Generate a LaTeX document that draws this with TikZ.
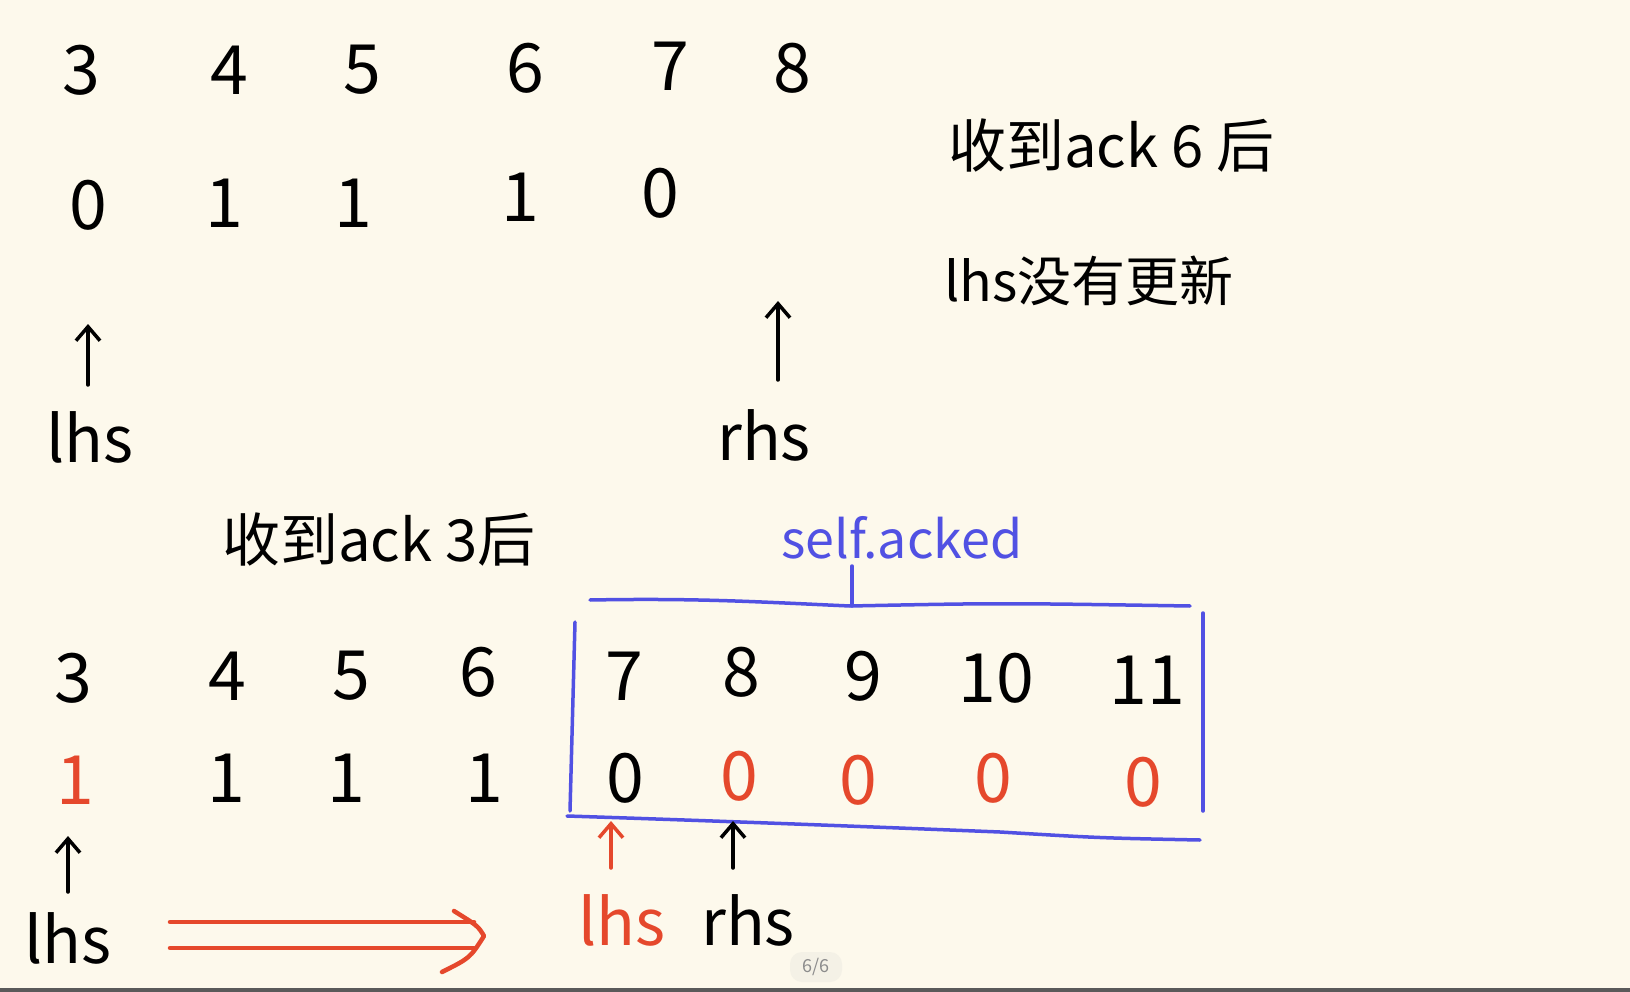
\documentclass[tikz,border=0pt]{standalone}
\usepackage{fontspec}
\setmainfont{Noto Sans CJK SC}
\usetikzlibrary{arrows.meta}
\definecolor{paper}{HTML}{FDF9EC}
\definecolor{hred}{HTML}{E5482C}
\definecolor{hblue}{HTML}{5151E3}
\definecolor{pagegray}{HTML}{8C8C8C}
\definecolor{pillbg}{HTML}{F4F1E6}
\definecolor{barcol}{HTML}{5A5A5A}
\tikzset{
  num/.style={font=\fontsize{68}{68}\selectfont, text=black, inner sep=0pt},
  rednum/.style={num, text=hred},
  lbl/.style={font=\fontsize{64}{64}\selectfont, text=black, inner sep=0pt},
  redlbl/.style={lbl, text=hred},
  note/.style={font=\fontsize{58}{58}\selectfont, text=black, inner sep=0pt, anchor=west},
  bluenote/.style={font=\fontsize{52}{52}\selectfont, text=hblue, inner sep=0pt},
  uparrow/.style={line width=3.5pt, line cap=round, -{Straight Barb[length=14pt,width=24pt,line width=3.5pt]}},
  redup/.style={uparrow, draw=hred},
  blueline/.style={draw=hblue, line width=3.5pt, line cap=round},
  redline/.style={draw=hred, line width=4.5pt, line cap=round, line join=round},
}
\begin{document}
\begin{tikzpicture}[x=1pt,y=-1pt]
\fill[paper] (0,0) rectangle (1630,992);
\useasboundingbox (0,0) rectangle (1630,992);

% ---------- top diagram ----------
\node[num] (a3) at (81,70) {3};
\node[num] (a4) at (229,70) {4};
\node[num] (a5) at (362,70) {5};
\node[num] (a6) at (525,68) {6};
\node[num] (a7) at (670,66) {7};
\node[num] (a8) at (792,68) {8};

\node[num] (b0) at (88,205) {0};
\node[num] (b1) at (224,203) {1};
\node[num] (b2) at (353,203) {1};
\node[num] (b3) at (520,197) {1};
\node[num] (b4) at (660,193) {0};

\node[lbl] (lhs1) at (90,437) {lhs};
\node[lbl] (rhs1) at (764,435) {rhs};
\coordinate (la0) at (88,385);
\coordinate (la1) at (88,324);
\coordinate (ra0) at (778,380);
\coordinate (ra1) at (778,301);
\draw[uparrow] (la0) -- (la1);
\draw[uparrow] (ra0) -- (ra1);

\node[note] (n1) at (948,146) {收到ack 6 后};
\node[note, font=\fontsize{54}{54}\selectfont] (n2) at (944,281) {lhs没有更新};

% ---------- bottom diagram ----------
\node[note] (n3) at (222,540) {收到ack 3后};
\node[bluenote] (sa) at (902,538) {self.acked};

\node[num] (c3) at (73,678) {3};
\node[num] (c4) at (227,676) {4};
\node[num] (c5) at (351,676) {5};
\node[num] (c6) at (478,672) {6};
\node[num] (c7) at (624,676) {7};
\node[num] (c8) at (741,672) {8};
\node[num] (c9) at (863,676) {9};
\node[num] (c10) at (996,678) {10};
\node[num] (c11) at (1147,680) {11};

\node[rednum] (d0) at (75,780) {1};
\node[num] (d1) at (226,778) {1};
\node[num] (d2) at (346,778) {1};
\node[num] (d3) at (484,778) {1};
\node[num] (d4) at (625,778) {0};
\node[rednum] (d5) at (739,776) {0};
\node[rednum] (d6) at (858,780) {0};
\node[rednum] (d7) at (993,778) {0};
\node[rednum] (d8) at (1143,782) {0};

% blue box
\coordinate (bx1) at (590,600);
\coordinate (bx2) at (1190,606);
\coordinate (bx3) at (1203,613);
\coordinate (bx4) at (1203,811);
\coordinate (bx5) at (575,622);
\coordinate (bx6) at (570,811);
\coordinate (bx7) at (567,816);
\coordinate (bx8) at (1200,840);
\coordinate (btop) at (852,566);
\coordinate (btick) at (852,606);
\draw[blueline] (bx1) .. controls (700,598) and (760,602) .. (850,606) .. controls (1000,603) .. (bx2);
\draw[blueline] (bx3) -- (bx4);
\draw[blueline] (bx5) -- (bx6);
\draw[blueline] (bx7) .. controls (750,822) and (900,828) .. (1000,832) .. controls (1100,838) .. (bx8);
\draw[blueline] (btop) -- (btick);

\node[lbl] (lhs2) at (68,938) {lhs};
\node[redlbl] (lhs3) at (622,920) {lhs};
\node[lbl] (rhs2) at (748,920) {rhs};
\coordinate (lb0) at (68,892);
\coordinate (lb1) at (68,836);
\coordinate (lc0) at (611,868);
\coordinate (lc1) at (611,821);
\coordinate (rc0) at (733,868);
\coordinate (rc1) at (733,821);
\draw[uparrow] (lb0) -- (lb1);
\draw[redup] (lc0) -- (lc1);
\draw[uparrow] (rc0) -- (rc1);

% double arrow
\coordinate (da1) at (170,922);
\coordinate (da2) at (474,922);
\coordinate (da3) at (170,948);
\coordinate (da4) at (474,948);
\coordinate (dh1) at (454,911);
\coordinate (dh2) at (484,936);
\coordinate (dh3) at (442,972);
\draw[redline] (da1) -- (da2);
\draw[redline] (da3) -- (da4);
\draw[redline] (dh1) .. controls (478,926) .. (dh2) .. controls (470,958) .. (dh3);

% page indicator
\node[fill=pillbg, rounded corners=12pt, minimum width=52pt, minimum height=30pt, inner sep=0pt,
      text=pagegray, font=\fontsize{18}{18}\selectfont] (pg) at (816,967) {6/6};
\fill[barcol] (0,988) rectangle (1630,992);
\end{tikzpicture}
\end{document}
